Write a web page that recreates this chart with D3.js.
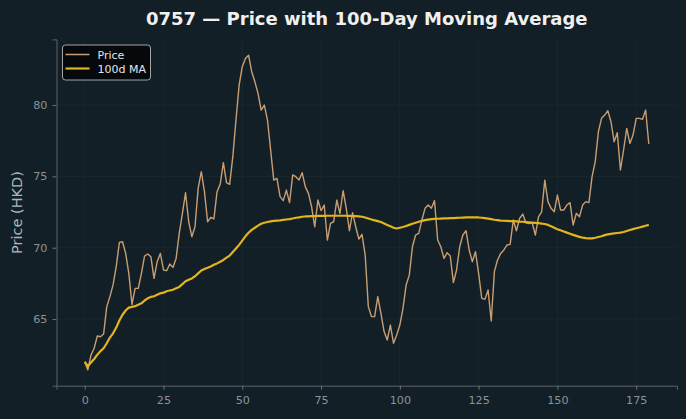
<!DOCTYPE html>
<html>
<head>
<meta charset="utf-8">
<script src="https://cdn.jsdelivr.net/npm/d3@7"></script>
<style>
  body { margin: 0; background: #121f27; }
  svg { display: block; font-family: "DejaVu Sans", sans-serif; }
</style>
</head>
<body>
<svg id="chart" width="686" height="419"></svg>
<script>
const title = "0757 \u2014 Price with 100-Day Moving Average";
const y_label = "Price (HKD)";
const series_names = ["Price", "100d MA"];
const x_ticks = [0, 25, 50, 75, 100, 125, 150, 175];
const y_ticks = [65, 70, 75, 80];

// closing price, day 0..179
const price = [
  62.0, 61.43, 62.48, 62.95, 63.81, 63.76, 63.95, 65.87, 66.57, 67.39,
  68.67, 70.37, 70.42, 69.6, 68.2, 66.03, 67.15, 67.15, 68.2, 69.42,
  69.56, 69.37, 67.85, 69.02, 69.6, 68.44, 68.39, 68.86, 68.62, 69.25,
  71.0, 72.4, 73.85, 71.82, 70.77, 71.47, 74.16, 75.33, 73.93, 71.82,
  72.13, 72.02, 73.93, 74.46, 75.96, 74.56, 74.44, 76.38, 78.95, 81.4,
  82.69, 83.27, 83.5, 82.34, 81.63, 80.82, 79.65, 80.0, 78.95, 76.85,
  74.74, 74.86, 73.58, 73.3, 74.04, 73.16, 75.1, 74.98, 74.74, 75.26,
  74.28, 73.81, 72.87, 71.47, 73.34, 72.6, 72.99, 70.54, 71.71, 71.82,
  73.34, 72.4, 74.0, 72.76, 71.19, 72.46, 71.47, 70.61, 70.94, 69.5,
  65.87, 65.17, 65.17, 66.57, 65.4, 64.12, 63.53, 64.58, 63.3, 63.88,
  64.58, 65.75, 67.39, 68.08, 70.07, 70.89, 71.0, 71.94, 72.76, 72.99,
  72.76, 73.3, 70.54, 70.07, 69.25, 69.65, 69.42, 67.55, 68.44, 70.07,
  70.89, 71.19, 69.84, 69.02, 69.72, 68.2, 66.45, 66.38, 67.04, 64.86,
  68.32, 69.14, 69.6, 69.84, 70.19, 70.23, 71.94, 71.19, 72.05, 72.36,
  71.75, 71.7, 71.75, 70.89, 72.17, 72.52, 74.74, 73.23, 72.76, 72.52,
  73.69, 72.64, 72.64, 72.99, 73.16, 71.59, 72.41, 72.17, 72.99, 73.23,
  73.16, 74.98, 76.03, 78.13, 79.07, 79.3, 79.6, 78.83, 77.43, 78.06,
  75.45, 76.85, 78.36, 77.31, 77.9, 79.07, 79.07, 79.0, 79.65, 77.27
];

// 100-day moving average, day 0..179
const ma100 = [
  62.0, 61.7, 61.95, 62.2, 62.5, 62.75, 62.95, 63.3, 63.7, 64.0,
  64.4, 64.9, 65.3, 65.6, 65.8, 65.85, 65.9, 66.0, 66.1, 66.3,
  66.45, 66.55, 66.6, 66.7, 66.8, 66.85, 66.95, 67.0, 67.05, 67.15,
  67.25, 67.45, 67.65, 67.75, 67.85, 68.0, 68.2, 68.4, 68.5, 68.6,
  68.68, 68.8, 68.9, 69.02, 69.14, 69.3, 69.45, 69.7, 69.95, 70.2,
  70.5, 70.8, 71.05, 71.25, 71.4, 71.55, 71.68, 71.75, 71.8, 71.85,
  71.88, 71.9, 71.92, 71.95, 71.98, 72.0, 72.05, 72.1, 72.13, 72.17,
  72.19, 72.2, 72.22, 72.22, 72.23, 72.23, 72.23, 72.24, 72.24, 72.24,
  72.24, 72.24, 72.24, 72.24, 72.23, 72.22, 72.22, 72.2, 72.17, 72.12,
  72.05, 71.98, 71.92, 71.86, 71.8, 71.7, 71.6, 71.5, 71.4, 71.35,
  71.4, 71.45, 71.52, 71.6, 71.68, 71.75, 71.82, 71.88, 71.93, 71.97,
  72.0, 72.02, 72.03, 72.04, 72.05, 72.06, 72.07, 72.08, 72.09, 72.1,
  72.11, 72.12, 72.13, 72.13, 72.13, 72.12, 72.1, 72.07, 72.04, 72.0,
  71.96, 71.93, 71.9, 71.89, 71.88, 71.87, 71.86, 71.85, 71.83, 71.82,
  71.8, 71.78, 71.76, 71.74, 71.72, 71.69, 71.66, 71.6, 71.5, 71.4,
  71.3, 71.22, 71.14, 71.06, 70.98, 70.9, 70.83, 70.76, 70.71, 70.67,
  70.65, 70.66, 70.7, 70.75, 70.8, 70.88, 70.93, 70.97, 71.0, 71.03,
  71.06, 71.1, 71.17, 71.24, 71.3, 71.36, 71.42, 71.48, 71.54, 71.6
];

const svg = d3.select("#chart"),
    width = +svg.attr("width"),
    height = +svg.attr("height");

const margin = {top: 39.4, right: 9, bottom: 33.3, left: 56.5};
const price_color = "#c99e72";
const ma_color = "#e2b51c";

svg.append("rect").attr("width", width).attr("height", height).attr("fill", "#121f27");

// matplotlib style 5% padding
const days = price.map((d, i) => i);
const x_ext = d3.extent(days);
const x_pad = (x_ext[1] - x_ext[0]) * 0.05;
const y_ext = d3.extent(price.concat(ma100));
const y_pad = (y_ext[1] - y_ext[0]) * 0.05;

const x = d3.scaleLinear()
    .domain([x_ext[0] - x_pad, x_ext[1] + x_pad])
    .range([margin.left, width - margin.right]);
const y = d3.scaleLinear()
    .domain([y_ext[0] - y_pad, y_ext[1] + y_pad])
    .range([height - margin.bottom, margin.top]);

// grid
const grid = svg.append("g");
grid.selectAll("line.gx")
    .data(x_ticks)
    .enter()
    .append("line")
    .attr("x1", d => x(d)).attr("x2", d => x(d))
    .attr("y1", margin.top).attr("y2", height - margin.bottom)
    .attr("stroke", "#1b2a31").attr("stroke-width", 0.8);
grid.selectAll("line.gy")
    .data(y_ticks)
    .enter()
    .append("line")
    .attr("x1", margin.left).attr("x2", width - margin.right)
    .attr("y1", d => y(d)).attr("y2", d => y(d))
    .attr("stroke", "#1b2a31").attr("stroke-width", 0.8);

// axes
const x_axis = svg.append("g")
    .attr("transform", "translate(0," + (height - margin.bottom) + ")")
    .call(d3.axisBottom(x).tickValues(x_ticks).tickSizeOuter(0).tickSize(4).tickPadding(6));
const y_axis = svg.append("g")
    .attr("transform", "translate(" + margin.left + ",0)")
    .call(d3.axisLeft(y).tickValues(y_ticks).tickSizeOuter(0).tickSize(4).tickPadding(5));

[x_axis, y_axis].forEach(function (g) {
    g.select(".domain").attr("stroke", "#5b6368").attr("stroke-width", 1);
    g.selectAll(".tick line").attr("stroke", "#6b7378");
    g.selectAll(".tick text")
        .attr("fill", "#8b9296")
        .style("font-size", "11.2px")
        .style("font-family", "DejaVu Sans, sans-serif");
});

// lines
const line_price = d3.line()
    .x((d, i) => x(i))
    .y(d => y(d));

svg.append("path")
    .datum(price)
    .attr("d", line_price)
    .attr("fill", "none")
    .attr("stroke", price_color)
    .attr("stroke-width", 1.4)
    .attr("stroke-linejoin", "round");

svg.append("path")
    .datum(ma100)
    .attr("d", line_price)
    .attr("fill", "none")
    .attr("stroke", ma_color)
    .attr("stroke-width", 2.2)
    .attr("stroke-linejoin", "round");

// title + label
svg.append("text")
    .attr("x", (margin.left + width - margin.right) / 2)
    .attr("y", 24.5)
    .attr("text-anchor", "middle")
    .attr("fill", "#f0f0f0")
    .style("font-size", "18px")
    .style("font-weight", "bold")
    .text(title);

svg.append("text")
    .attr("transform", "translate(22," + ((margin.top + height - margin.bottom) / 2) + ") rotate(-90)")
    .attr("text-anchor", "middle")
    .attr("fill", "#aeb6ba")
    .style("font-size", "14.5px")
    .text(y_label);

// legend
const legend = svg.append("g").attr("transform", "translate(62.5,45)");
legend.append("rect")
    .attr("width", 88).attr("height", 35)
    .attr("rx", 3).attr("ry", 3)
    .attr("fill", "#05090b")
    .attr("stroke", "#b5b5b5")
    .attr("stroke-width", 0.9);
const legend_colors = [price_color, ma_color];
const legend_widths = [1.5, 2.2];
legend.selectAll("line")
    .data(series_names)
    .enter()
    .append("line")
    .attr("x1", 3).attr("x2", 27)
    .attr("y1", (d, i) => 9.5 + i * 14)
    .attr("y2", (d, i) => 9.5 + i * 14)
    .attr("stroke", (d, i) => legend_colors[i])
    .attr("stroke-width", (d, i) => legend_widths[i]);
legend.selectAll("text")
    .data(series_names)
    .enter()
    .append("text")
    .attr("x", 35)
    .attr("y", (d, i) => 13.5 + i * 14)
    .attr("fill", "#e6e6e6")
    .style("font-size", "11px")
    .text(d => d);
</script>
</body>
</html>
